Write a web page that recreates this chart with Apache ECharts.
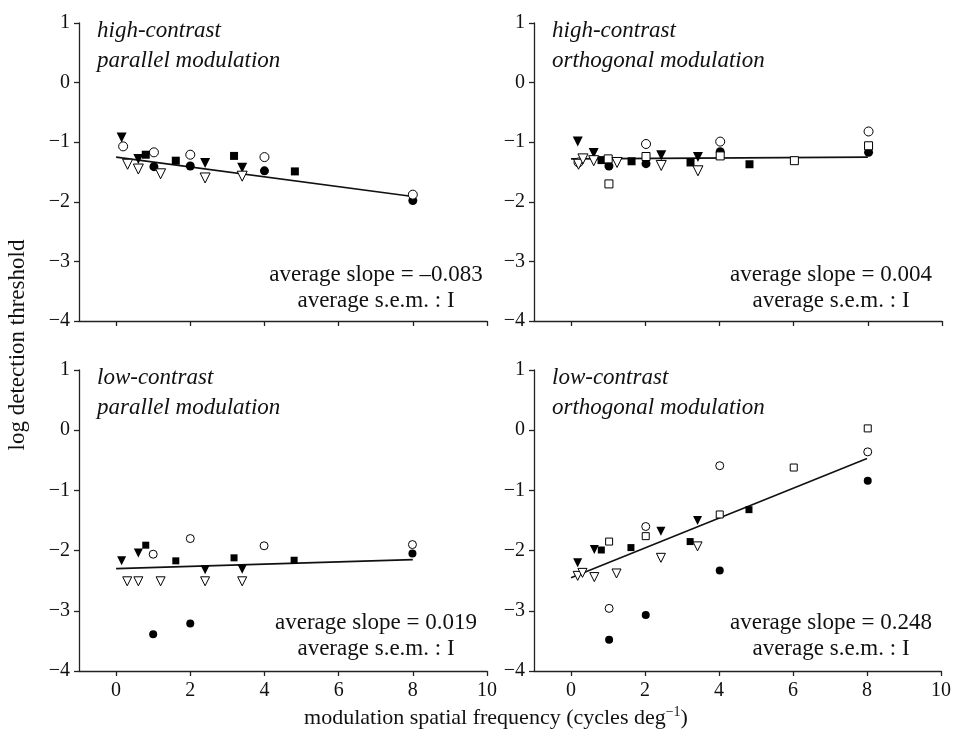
<!DOCTYPE html>
<html>
<head>
<meta charset="utf-8">
<title>modulation thresholds</title>
<script src="https://cdn.jsdelivr.net/npm/echarts@6/dist/echarts.min.js"></script>
<style>
  html, body { margin: 0; padding: 0; background: #fff; }
  #main { width: 954px; height: 731px; }
</style>
</head>
<body>
<div id="main"></div>
<script>
// marker codes: fc filled circle, oc open circle, fs filled square,
// os open square, ft filled triangle (down), ot open triangle (down)

// high-contrast parallel
const hiPar = [
  [0.15, -0.92, 'ft'], [0.19, -1.07, 'oc'], [0.31, -1.37, 'ot'], [0.6, -1.45, 'ot'],
  [0.6, -1.28, 'ft'], [0.8, -1.21, 'fs'], [1.02, -1.17, 'oc'], [1.02, -1.41, 'fc'],
  [1.2, -1.53, 'ot'], [1.61, -1.31, 'fs'], [2.0, -1.21, 'oc'], [2.0, -1.40, 'fc'],
  [2.4, -1.35, 'ft'], [2.4, -1.6, 'ot'], [3.18, -1.23, 'fs'], [3.4, -1.43, 'ft'],
  [3.4, -1.57, 'ot'], [4.0, -1.25, 'oc'], [4.0, -1.48, 'fc'], [4.82, -1.49, 'fs'],
  [8.0, -1.88, 'oc'], [8.0, -1.98, 'fc']
];
const hiParFit = [[0, -1.25], [8, -1.91]];

// high-contrast orthogonal
const hiOrt = [
  [0.18, -0.99, 'ft'], [0.2, -1.37, 'ot'], [0.2, -1.34, 'oc'], [0.32, -1.28, 'ot'],
  [0.61, -1.18, 'ft'], [0.61, -1.31, 'ot'], [0.82, -1.3, 'fs'], [1.0, -1.28, 'os'],
  [1.02, -1.40, 'fc'], [1.02, -1.70, 'os'], [1.24, -1.34, 'ot'], [1.63, -1.32, 'fs'],
  [2.02, -1.03, 'oc'], [2.02, -1.24, 'os'], [2.02, -1.36, 'fc'], [2.43, -1.22, 'ft'],
  [2.43, -1.39, 'ot'], [3.22, -1.34, 'fs'], [3.42, -1.25, 'ft'], [3.42, -1.48, 'ot'],
  [4.02, -0.99, 'oc'], [4.02, -1.16, 'fc'], [4.02, -1.23, 'os'], [4.81, -1.37, 'fs'],
  [6.02, -1.31, 'os'], [8.02, -0.82, 'oc'], [8.02, -1.06, 'os'], [8.02, -1.17, 'fc']
];
const hiOrtFit = [[0, -1.28], [8, -1.25]];

// low-contrast parallel
const loPar = [
  [0.15, -2.17, 'ft'], [0.3, -2.51, 'ot'], [0.6, -2.51, 'ot'], [1.2, -2.51, 'ot'],
  [0.6, -2.04, 'ft'], [0.8, -1.91, 'fs'], [1.0, -2.06, 'oc'], [1.0, -3.39, 'fc'],
  [1.61, -2.17, 'fs'], [2.0, -1.80, 'oc'], [2.0, -3.21, 'fc'], [2.4, -2.32, 'ft'],
  [2.4, -2.51, 'ot'], [3.18, -2.12, 'fs'], [3.4, -2.31, 'ft'], [3.4, -2.51, 'ot'],
  [3.99, -1.92, 'oc'], [4.8, -2.16, 'fs'], [7.99, -1.90, 'oc'], [7.99, -2.05, 'fc']
];
const loParFit = [[0, -2.30], [8, -2.15]];

// low-contrast orthogonal
const loOrt = [
  [0.18, -2.20, 'ft'], [0.18, -2.42, 'ot'], [0.31, -2.37, 'ot'], [0.63, -2.44, 'ot'],
  [0.63, -1.98, 'ft'], [0.82, -1.99, 'fs'], [1.03, -1.85, 'os'], [1.23, -2.38, 'ot'],
  [1.03, -2.96, 'oc'], [1.03, -3.48, 'fc'], [1.62, -1.95, 'fs'], [2.02, -1.60, 'oc'],
  [2.02, -1.76, 'os'], [2.02, -3.07, 'fc'], [2.43, -1.68, 'ft'], [2.43, -2.12, 'ot'],
  [3.22, -1.85, 'fs'], [3.42, -1.93, 'ot'], [3.42, -1.50, 'ft'], [4.02, -0.59, 'oc'],
  [4.02, -1.40, 'os'], [4.02, -2.33, 'fc'], [4.81, -1.32, 'fs'], [6.02, -0.62, 'os'],
  [8.02, 0.03, 'os'], [8.02, -0.36, 'oc'], [8.02, -0.84, 'fc']
];
const loOrtFit = [[0, -2.45], [8, -0.47]];

const xTicks = [0, 2, 4, 6, 8, 10];
const titles = [
  ['high-contrast', 'parallel modulation'],
  ['high-contrast', 'orthogonal modulation'],
  ['low-contrast', 'parallel modulation'],
  ['low-contrast', 'orthogonal modulation']
];
const slopeLabels = ['average slope = \u20130.083', 'average slope = 0.004',
  'average slope = 0.019', 'average slope = 0.248'];

const FONT = '"Liberation Serif", "DejaVu Serif", serif';

// 面板位置
const gridPos = [
  { left: 79, top: 23, width: 408, height: 298 },
  { left: 534, top: 23, width: 408, height: 298 },
  { left: 79, top: 370, width: 408, height: 301 },
  { left: 534, top: 370, width: 408, height: 301 }
];

// 上排的点略大一些
const markers = {
  fc: { symbol: 'circle', size: [9, 8], fill: '#000', rotate: 0 },
  oc: { symbol: 'circle', size: [9, 8], fill: '#fff', rotate: 0 },
  fs: { symbol: 'rect', size: [8, 7], fill: '#000', rotate: 0 },
  os: { symbol: 'rect', size: [8, 7], fill: '#fff', rotate: 0 },
  ft: { symbol: 'triangle', size: [10, 9], fill: '#000', rotate: 180 },
  ot: { symbol: 'triangle', size: [10, 9], fill: '#fff', rotate: 180 }
};

const panelData = [hiPar, hiOrt, loPar, loOrt];
const panelFit = [hiParFit, hiOrtFit, loParFit, loOrtFit];

let xAxes = [], yAxes = [], series = [], graphics = [];

gridPos.forEach(function (g, i) {
  let bottomRow = i >= 2;
  xAxes.push({
    gridIndex: i, type: 'value', min: -1, max: 10,
    splitLine: { show: false },
    axisLine: { onZero: false, lineStyle: { color: '#222', width: 1.3 } },
    axisTick: { customValues: xTicks, length: 5, lineStyle: { color: '#222', width: 1.3 } },
    axisLabel: {
      show: bottomRow, customValues: xTicks, margin: 10,
      color: '#111', fontSize: 20, fontFamily: FONT
    }
  });
  yAxes.push({
    gridIndex: i, type: 'value', min: -4, max: 1, interval: 1,
    splitLine: { show: false },
    axisLine: { show: true, onZero: false, lineStyle: { color: '#222', width: 1.3 } },
    axisTick: { show: true, length: 5, lineStyle: { color: '#222', width: 1.3 } },
    axisLabel: {
      color: '#111', fontSize: 20, fontFamily: FONT, margin: 9,
      formatter: function (v) { return String(v).replace('-', '\u2212'); }
    }
  });

  // 拟合线
  series.push({
    type: 'line', xAxisIndex: i, yAxisIndex: i, data: panelFit[i],
    symbol: 'none', silent: true, z: 3,
    lineStyle: { color: '#111', width: 1.6 }
  });

  Object.keys(markers).forEach(function (k) {
    let m = markers[k];
    let pts = panelData[i].filter(function (d) { return d[2] === k; })
      .map(function (d) { return [d[0], d[1]]; });
    if (!pts.length) return;
    series.push({
      type: 'scatter', xAxisIndex: i, yAxisIndex: i, data: pts,
      symbol: m.symbol, symbolSize: m.size[bottomRow ? 1 : 0], symbolRotate: m.rotate, z: 4,
      itemStyle: { color: m.fill, borderColor: '#000', borderWidth: m.fill === '#fff' ? 1 : 0, opacity: 1 }
    });
  });

  // 面板标题
  titles[i].forEach(function (t, j) {
    graphics.push({
      type: 'text', x: g.left + 18, y: g.top + 8 + j * 30,
      style: { text: t, fill: '#111', fontSize: 23, fontStyle: 'italic', fontFamily: FONT,
        align: 'left', verticalAlign: 'middle' }
    });
  });

  let cx = g.left + 297;
  let sy = g.top + (bottomRow ? 253 : 252);
  graphics.push({
    type: 'text', x: cx, y: sy,
    style: { text: slopeLabels[i], fill: '#111', fontSize: 23, fontFamily: FONT,
      align: 'center', verticalAlign: 'middle' }
  });
  graphics.push({
    type: 'text', x: cx, y: sy + 26,
    style: { text: 'average s.e.m. : I', fill: '#111', fontSize: 23, fontFamily: FONT,
      align: 'center', verticalAlign: 'middle' }
  });
});

// 坐标轴名称
graphics.push({
  type: 'text', x: 18, y: 345, rotation: Math.PI / 2,
  style: { text: 'log detection threshold', fill: '#111', fontSize: 23, fontFamily: FONT,
    align: 'center', verticalAlign: 'middle' }
});
graphics.push({
  type: 'text', x: 496, y: 718,
  style: {
    text: '{a|modulation spatial frequency (cycles deg}{s|\u22121}{a|)}',
    fill: '#111', align: 'center', verticalAlign: 'middle',
    rich: {
      a: { fontSize: 22, fontFamily: FONT, fill: '#111' },
      s: { fontSize: 14, fontFamily: FONT, fill: '#111', padding: [0, 0, 12, 0] }
    }
  }
});

let chart = echarts.init(document.getElementById('main'));
chart.setOption({
  backgroundColor: '#fff',
  animation: false,
  grid: gridPos,
  xAxis: xAxes,
  yAxis: yAxes,
  series: series,
  graphic: graphics
});
</script>
</body>
</html>
